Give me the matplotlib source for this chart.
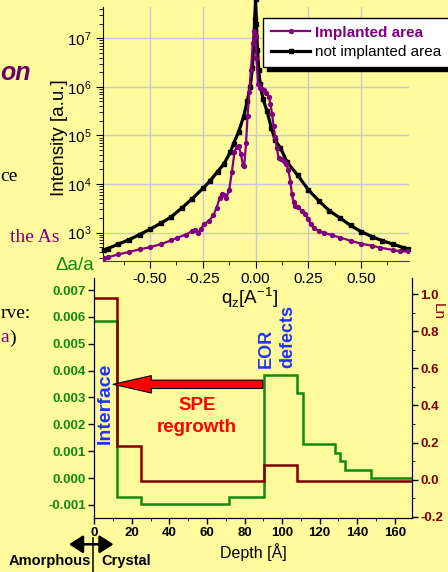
import matplotlib
matplotlib.use('Agg')
import matplotlib.pyplot as plt
from matplotlib.patches import FancyArrowPatch, ArrowStyle
from matplotlib.lines import Line2D
from matplotlib.ticker import (MultipleLocator, FixedLocator, FormatStrFormatter,
                               LogLocator, NullFormatter)

plt.rcParams['font.family'] = ['Liberation Sans', 'DejaVu Sans']

# ---------------- data: X-ray scan (top panel) ----------------
q_not_implanted = [-0.72, -0.70, -0.65, -0.60, -0.55, -0.50, -0.45, -0.40, -0.35, -0.30,
                   -0.25, -0.215, -0.18, -0.15, -0.12, -0.104, -0.08, -0.057, -0.04, -0.025,
                   -0.015, -0.009, -0.004, 0.0, 0.004, 0.009, 0.015, 0.022, 0.035, 0.054,
                   0.075, 0.093, 0.117, 0.15, 0.20, 0.25, 0.30, 0.35, 0.40, 0.45,
                   0.50, 0.55, 0.60, 0.65, 0.70, 0.72]
I_not_implanted = [4.3e2, 4.7e2, 5.8e2, 7.1e2, 9.1e2, 1.17e3, 1.55e3, 2.1e3, 3.2e3, 5.0e3,
                   8.1e3, 1.17e4, 1.8e4, 2.6e4, 4.5e4, 6.8e4, 1.2e5, 2.4e5, 5.0e5, 1.0e6,
                   2.5e6, 7.9e6, 2.5e7, 6.3e7, 2.0e7, 5.6e6, 2.2e6, 1.12e6, 5.6e5, 3.2e5,
                   1.4e5, 7.9e4, 5.6e4, 2.8e4, 1.5e4, 7.6e3, 4.5e3, 2.8e3, 2.0e3, 1.4e3,
                   1.05e3, 8.3e2, 6.8e2, 5.8e2, 4.9e2, 4.6e2]

q_implanted = [-0.72, -0.70, -0.65, -0.60, -0.55, -0.50, -0.45, -0.40, -0.37, -0.33,
               -0.30, -0.285, -0.272, -0.26, -0.245, -0.22, -0.20, -0.185, -0.17, -0.16,
               -0.15, -0.138, -0.125, -0.112, -0.10, -0.09, -0.08, -0.07, -0.06, -0.054,
               -0.045, -0.038, -0.030, -0.022, -0.013, -0.006, 0.0, 0.004, 0.012, 0.02,
               0.03, 0.04, 0.05, 0.063, 0.07, 0.078, 0.085, 0.093, 0.10, 0.109,
               0.12, 0.133, 0.145, 0.156, 0.165, 0.172, 0.18, 0.188, 0.20, 0.22,
               0.235, 0.25, 0.262, 0.275, 0.30, 0.322, 0.36, 0.40, 0.45, 0.50,
               0.55, 0.59, 0.65, 0.686, 0.72]
I_implanted = [2.95e2, 3.1e2, 3.55e2, 4.0e2, 4.5e2, 5.0e2, 5.75e2, 6.9e2, 7.9e2, 9.1e2,
               1.07e3, 1.12e3, 1.0e3, 1.17e3, 1.48e3, 1.74e3, 2.3e3, 3.2e3, 5.2e3, 6.2e3,
               6.0e3, 5.2e3, 7.6e3, 1.8e4, 4.5e4, 5.8e4, 6.0e4, 4.2e4, 2.5e4, 2.3e4,
               7.1e4, 2.5e5, 7.9e5, 2.2e6, 7.9e6, 1.4e7, 1.1e7, 4.0e6, 1.12e6, 9.5e5,
               9.1e5, 8.5e5, 7.6e5, 6.2e5, 4.5e5, 2.8e5, 1.6e5, 9.3e4, 5.6e4, 3.5e4,
               3.2e4, 3.0e4, 2.6e4, 1.9e4, 1.12e4, 6.2e3, 4.2e3, 3.5e3, 3.3e3, 2.8e3,
               2.4e3, 1.9e3, 1.48e3, 1.26e3, 1.07e3, 1.0e3, 8.9e2, 7.9e2, 6.8e2, 5.9e2,
               5.4e2, 4.9e2, 4.4e2, 4.1e2, 4.1e2]

q_ticks = [-0.50, -0.25, 0.00, 0.25, 0.50]

# ---------------- data: depth profiles (bottom panel) ----------------
depth_edges_strain = [0, 12, 25, 71.6, 90.3, 108, 111.2, 128, 131, 133.7, 147.5, 169]
strain = [0.00585, -0.00071, -0.00098, -0.00071, 0.00383, 0.00317, 0.00125,
          0.00095, 0.00063, 0.0003, 0.0]
depth_edges_damage = [0, 12, 25, 90.3, 108, 169]
damage = [0.982, 0.179, -0.005, 0.077, -0.005]

W, H = 448, 572
BG = '#FFFA9C'
PURPLE = '#800080'
GREEN = '#118A11'
DRED = '#800000'
BLUE = '#1E32FF'


def fx(x):
    return x / W


def fy(y):
    return 1 - y / H


fig = plt.figure(figsize=(W / 100, H / 100), dpi=100, facecolor=BG)

# ================= top panel =================
ax1 = fig.add_axes([fx(103), fy(261), (409 - 103) / W, (261 - 7) / H])
ax1.set_facecolor('none')
l_imp, = ax1.plot(q_implanted, I_implanted, color=PURPLE, lw=1.6, marker='o', ms=2.8,
                  label='Implanted area', zorder=4)
l_ref, = ax1.plot(q_not_implanted, I_not_implanted, color='black', lw=2.3, marker='s', ms=2.5,
                  label='not implanted area', zorder=3, clip_on=False)
ax1.set_yscale('log')
ax1.set_ylim(260, 4.4e7)
ax1.set_xlim(-0.723, 0.727)
ax1.xaxis.set_major_locator(FixedLocator(q_ticks))
ax1.xaxis.set_minor_locator(MultipleLocator(0.125))
ax1.xaxis.set_major_formatter(FormatStrFormatter('%.2f'))
ax1.yaxis.set_major_locator(LogLocator(base=10, numticks=10))
ax1.yaxis.set_minor_locator(LogLocator(base=10, subs=range(2, 10), numticks=20))
ax1.yaxis.set_minor_formatter(NullFormatter())
ax1.grid(True, which='major', color='#C8C8DC', lw=1)
ax1.set_axisbelow(True)
for s in ('top', 'right'):
    ax1.spines[s].set_visible(False)
ax1.spines['bottom'].set_color('#404040')
ax1.tick_params(which='major', direction='out', length=5, labelsize=11, pad=3)
ax1.tick_params(which='minor', direction='out', length=3)

leg = ax1.legend([l_imp, l_ref], ['Implanted area', 'not implanted area'],
                 loc='upper left', bbox_to_anchor=(fx(263), fy(18)),
                 bbox_transform=fig.transFigure, fontsize=11, frameon=True,
                 fancybox=False, edgecolor='black', facecolor='white', framealpha=1,
                 shadow={'ox': 3, 'oy': -3, 'facecolor': 'black', 'edgecolor': 'black',
                         'alpha': 1},
                 handlelength=2.6, handletextpad=0.3, borderpad=0.5,
                 labelspacing=0.35, borderaxespad=0)
leg.get_frame().set_linewidth(1.0)
leg.get_texts()[0].set_color(PURPLE)
leg.get_texts()[0].set_fontweight('bold')

fig.text(fx(60), fy(138), 'Intensity [a.u.]', rotation=90, fontsize=13.5,
         ha='center', va='center')
fig.text(fx(250), fy(298), r'q$_\mathregular{z}$[A$^\mathregular{-1}$]', fontsize=13.5,
         ha='center', va='center')

# ================= bottom panel =================
ax2 = fig.add_axes([fx(94.3), fy(518.3), (411.7 - 94.3) / W, (518.3 - 278) / H])
ax2.set_facecolor('none')
ax2.stairs(strain, depth_edges_strain, baseline=None, color=GREEN, lw=1.8)
ax2.set_xlim(0, 169)
ax2.set_ylim(-0.0015, 0.00745)
ax3 = ax2.twinx()
ax3.stairs(damage, depth_edges_damage, baseline=None, color=DRED, lw=1.8)
ax3.set_ylim(-0.209, 1.088)

ax2.xaxis.set_major_locator(MultipleLocator(20))
ax2.xaxis.set_minor_locator(MultipleLocator(10))
ax2.yaxis.set_major_locator(MultipleLocator(0.001))
ax2.yaxis.set_major_formatter(FormatStrFormatter('%.3f'))
ax3.yaxis.set_major_locator(MultipleLocator(0.2))
ax3.yaxis.set_minor_locator(MultipleLocator(0.1))
ax3.yaxis.set_major_formatter(FormatStrFormatter('%.1f'))
for a in (ax2, ax3):
    a.spines['top'].set_visible(False)
    a.tick_params(which='major', direction='out', length=4, width=1, labelsize=9.5, pad=2)
    a.tick_params(which='minor', direction='out', length=2.5)
ax2.tick_params(axis='y', labelcolor=GREEN)
ax3.tick_params(axis='y', labelcolor=DRED)
for lab in ax2.get_xticklabels() + ax2.get_yticklabels() + ax3.get_yticklabels():
    lab.set_fontweight('bold')

fig.text(fx(75), fy(266), '\u0394a/a', color=GREEN, fontsize=13.5, ha='center', va='center')
fig.text(fx(431), fy(303), 'Ln', color=DRED, fontsize=11, rotation=270,
         ha='left', va='top')
fig.text(fx(253), fy(551.7), 'Depth [\u00c5]', fontsize=11.5, ha='center', va='center')

# annotations in the bottom panel
tr = ax2.transData
ax3.text(5.7, 0.00279, 'Interface', transform=tr, color=BLUE, fontsize=14,
         fontweight='bold', rotation=90, ha='center', va='center')
ax3.text(91.3, 0.0041, 'EOR', transform=tr, color=BLUE, fontsize=13,
         fontweight='bold', rotation=90, ha='center', va='bottom')
ax3.text(103, 0.0041, 'defects', transform=tr, color=BLUE, fontsize=13,
         fontweight='bold', rotation=90, ha='center', va='bottom')
ax3.text(54.6, 0.00271, 'SPE', transform=tr, color='#FF0000', fontsize=13.5,
         fontweight='bold', ha='center', va='center')
ax3.text(54.6, 0.0019, 'regrowth', transform=tr, color='#FF0000', fontsize=13.5,
         fontweight='bold', ha='center', va='center')
arrow = FancyArrowPatch((89.7, 0.00349), (10.0, 0.00349), transform=tr,
                        arrowstyle=ArrowStyle('Simple', head_length=27.5, head_width=12.5,
                                              tail_width=6),
                        mutation_scale=1, shrinkA=0, shrinkB=0,
                        facecolor='#FF0000', edgecolor='black', lw=0.8, zorder=5)
ax3.add_patch(arrow)

# interface marker below the axis
fig.add_artist(Line2D([fx(93.3), fx(93.3)], [fy(538), fy(572)], transform=fig.transFigure,
                      color='black', lw=1.1))
fig.add_artist(FancyArrowPatch((fx(69), fy(544.3)), (fx(113.5), fy(544.3)),
                               transform=fig.transFigure,
                               arrowstyle='<|-|>,head_length=0.7,head_width=0.45',
                               mutation_scale=12, color='black', lw=1.8,
                               shrinkA=0, shrinkB=0))
fig.text(fx(91), fy(561.5), 'Amorphous', fontsize=10.5, fontweight='bold', ha='right',
         va='center')
fig.text(fx(101), fy(561.5), 'Crystal', fontsize=10.5, fontweight='bold', ha='left',
         va='center')

# slide text fragments on the left edge
fig.text(fx(0.5), fy(73), 'on', color='#660066', fontsize=18, fontweight='bold',
         fontstyle='italic', ha='left', va='center')
fig.text(fx(0.5), fy(177), 'ce', color='black', fontsize=14, family='Liberation Serif',
         ha='left', va='center')
fig.text(fx(59), fy(237), 'the As', color=PURPLE, fontsize=14, family='Liberation Serif',
         ha='right', va='center')
fig.text(fx(0.5), fy(313), 'rve:', color='black', fontsize=14, family='Liberation Serif',
         ha='left', va='center')
fig.text(fx(0.5), fy(338), 'a', color=PURPLE, fontsize=14, family='Liberation Serif',
         ha='left', va='center')
fig.text(fx(9), fy(338), ')', color='black', fontsize=14, family='Liberation Serif',
         ha='left', va='center')

fig.savefig('out.png', dpi=100, facecolor=BG)
